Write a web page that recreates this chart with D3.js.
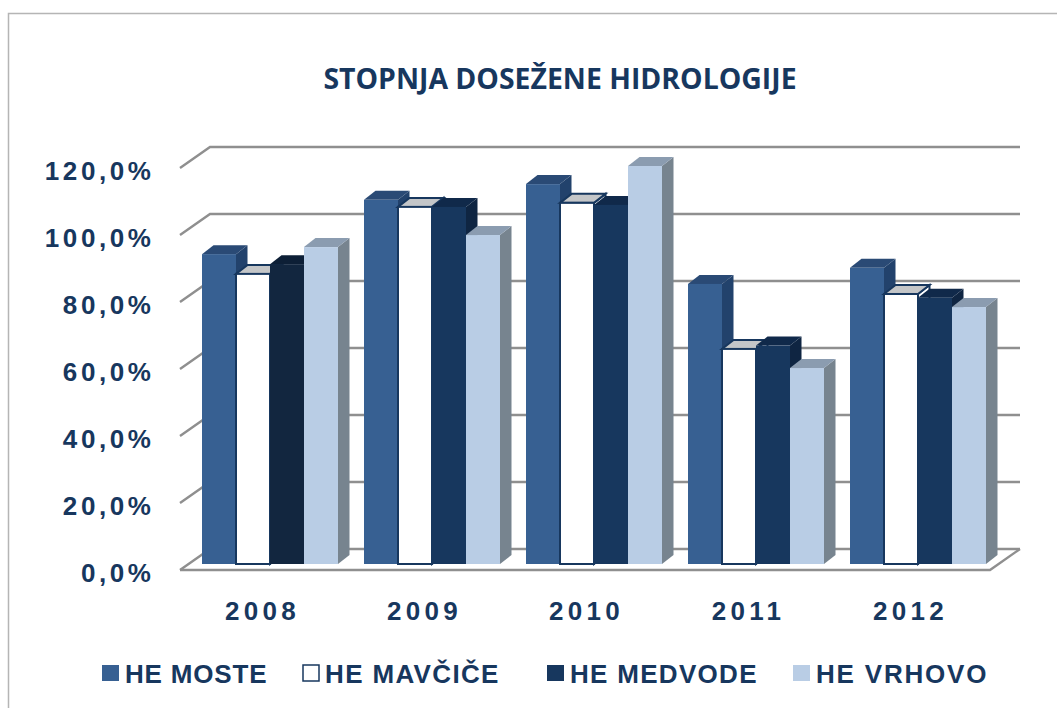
<!DOCTYPE html>
<html><head><meta charset="utf-8">
<script src="https://cdn.jsdelivr.net/npm/d3@7"></script>
<style>html,body{margin:0;padding:0;background:#fff}svg{display:block}</style></head><body>
<svg id="c" width="1057" height="708"></svg>
<script>
const categories = ["2008","2009","2010","2011","2012"];
const seriesNames = ["HE MOSTE","HE MAVČIČE","HE MEDVODE","HE VRHOVO"];
const heMoste = [92.5,108.7,113.4,83.6,88.4];
const heMavcice = [86.6,106.6,107.8,64.2,80.6];
const heMedvode = [89.5,106.6,107.2,65.2,79.5];
const heVrhovo = [94.6,98.2,118.8,58.5,76.7];
const yTicks = [0,20,40,60,80,100,120];
const title = "STOPNJA DOSEŽENE HIDROLOGIJE";

const series = [heMoste,heMavcice,heMedvode,heVrhovo];
const navy="#17375e";
const styles=[
 {front:"#376092",top:"#2a4a75",side:"#22426c"},
 {front:"#ffffff",top:"#c4c6c8",side:"#ffffff",stroke:"#17375e"},
 {front:"#17375e",top:"#10294a",side:"#0f2542"},
 {front:"#b9cde5",top:"#8b9cb0",side:"#77848f"}
];
const darkMedvode2008={front:"#12263f",top:"#0d1f36",side:"#0c1c30"};
const svg=d3.select("#c");
// frame
svg.append("path").attr("d","M8.5,708V13.5H1057").attr("fill","none").attr("stroke","#b5b5b5").attr("stroke-width",1.5);
svg.append("text").attr("x",560).attr("y",89).attr("text-anchor","middle")
 .attr("font-family","Open Sans").attr("font-weight",700).attr("font-size",28.4).attr("fill",navy).text(title);

const y=d3.scaleLinear().domain([0,120]).range([570,168]);
const x=d3.scaleBand().domain(categories).range([180,990]);
const depth={dx:30,dy:-21};
const bar={dx:11.5,dy:-9,inset:22,w:34,lift:-6};

// gridlines
const grid=svg.append("g").attr("fill","none").attr("stroke","#8f8f8f").attr("stroke-width",2.4);
yTicks.forEach(t=>{
  const yy=y(t);
  grid.append("path").attr("d",`M${x.range()[0]},${yy}L${x.range()[0]+depth.dx},${yy+depth.dy}H${x.range()[1]+depth.dx}`);
});
grid.append("path").attr("d",`M${x.range()[0]},${y(0)}H${x.range()[1]}L${x.range()[1]+depth.dx},${y(0)+depth.dy}`);

// tick labels
svg.append("g").selectAll("text").data(yTicks).join("text")
 .attr("x",154.6).attr("y",d=>y(d)+12).attr("text-anchor","end")
 .attr("font-family","Liberation Sans").attr("font-weight",700).attr("font-size",26).attr("letter-spacing",3.6).attr("fill",navy)
 .text(d=>d.toFixed(1).replace(".",",")+"%");
svg.append("g").selectAll("text").data(categories).join("text")
 .attr("x",d=>x(d)+x.bandwidth()/2+1.5).attr("y",619.5).attr("text-anchor","middle")
 .attr("font-family","Liberation Sans").attr("font-weight",700).attr("font-size",26).attr("letter-spacing",4.3).attr("fill",navy)
 .text(d=>d);

// bars
const barsG=svg.append("g");
categories.forEach((c,ci)=>{
  series.forEach((s,si)=>{
    const st=(si===2&&ci===0)?darkMedvode2008:styles[si];
    const g=barsG.append("g");
    const x0=x(c)+bar.inset+si*bar.w, x1=x0+bar.w;
    const yb=y(0)+bar.lift, yt=y(s[ci])+bar.lift;
    const sw=st.stroke?2:0, sk=st.stroke||"none";
    g.append("path").attr("d",`M${x1},${yt}L${x1+bar.dx},${yt+bar.dy}V${yb+bar.dy}L${x1},${yb}Z`).attr("fill",st.side).attr("stroke",sk).attr("stroke-width",sw);
    g.append("path").attr("d",`M${x0},${yt}L${x0+bar.dx},${yt+bar.dy}H${x1+bar.dx}L${x1},${yt}Z`).attr("fill",st.top).attr("stroke",sk).attr("stroke-width",sw);
    g.append("rect").attr("x",x0).attr("y",yt).attr("width",bar.w).attr("height",yb-yt).attr("fill",st.front).attr("stroke",sk).attr("stroke-width",sw);
  });
});

// legend
const legendX=[102,302,547,793];
const legendSpacing=[0.83,1.35,1.3,1.8];
const lg=svg.append("g").selectAll("g").data(seriesNames).join("g").attr("transform",(d,i)=>`translate(${legendX[i]},665)`);
lg.append("rect").attr("x",(d,i)=>i==1?1:0).attr("y",0).attr("width",(d,i)=>i==1?16:17).attr("height",16)
 .attr("fill",(d,i)=>styles[i].front).attr("stroke",(d,i)=>styles[i].stroke||"none").attr("stroke-width",1.5);
lg.append("text").attr("x",23).attr("y",18)
 .attr("font-family","Liberation Sans").attr("font-weight",700).attr("font-size",26).attr("letter-spacing",(d,i)=>legendSpacing[i]).attr("fill",navy).text(d=>d);
</script></body></html>
